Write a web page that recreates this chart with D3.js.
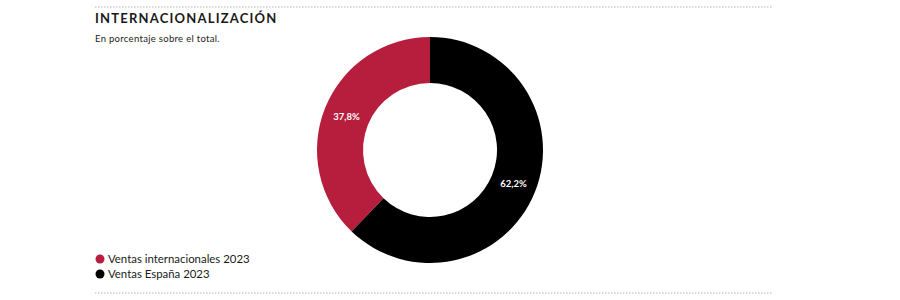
<!DOCTYPE html>
<html>
<head>
<meta charset="utf-8">
<script src="https://cdn.jsdelivr.net/npm/d3@7"></script>
<style>
  body { margin: 0; background: #fff; }
  svg { font-family: Lato, "Noto Sans", sans-serif; }
</style>
</head>
<body>
<div id="chart-area"></div>
<script>
// datos
var categories = ["Ventas internacionales 2023", "Ventas España 2023"];
var values = [37.8, 62.2];
var labels = ["37,8%", "62,2%"];
var colors = ["#b71d3d", "#000000"];

var width = 900, height = 300;
var cx = 430, cy = 150, rOuter = 113, rInner = 67;

var svg = d3.select("#chart-area").append("svg")
            .attr("width", width)
            .attr("height", height);

// lineas punteadas
[7, 293].forEach((y) => {
  svg.append("line")
     .attr("x1", 95).attr("x2", 773)
     .attr("y1", y).attr("y2", y)
     .attr("stroke", "#b5b5b5")
     .attr("stroke-width", 1)
     .attr("stroke-dasharray", "1.5,1.5");
});

svg.append("text")
   .attr("x", 95).attr("y", 23)
   .attr("font-size", 13)
   .attr("font-weight", "bold")
   .attr("letter-spacing", 1.2)
   .attr("fill", "#1a1a1a")
   .text("INTERNACIONALIZACIÓN");

svg.append("text")
   .attr("x", 95).attr("y", 42)
   .attr("font-size", 9.5)
   .attr("letter-spacing", 0.3)
   .attr("fill", "#222")
   .text("En porcentaje sobre el total.");

var data = categories.map((c, i) => ({ name: c, value: values[i], label: labels[i], color: colors[i] }));

// España empieza arriba en sentido horario, internacional cierra el circulo
var pie = d3.pie()
            .sort(null)
            .value((d) => d.value)
            .startAngle(-2 * Math.PI * values[0] / 100)
            .endAngle(2 * Math.PI - 2 * Math.PI * values[0] / 100);

var arc = d3.arc().innerRadius(rInner).outerRadius(rOuter);

var g = svg.append("g").attr("transform", "translate(" + cx + "," + cy + ")");

g.selectAll("path")
 .data(pie(data))
 .enter()
 .append("path")
   .attr("d", arc)
   .attr("fill", (d) => d.data.color);

g.selectAll("text")
 .data(pie(data))
 .enter()
 .append("text")
   .attr("transform", (d) => "translate(" + arc.centroid(d) + ")")
   .attr("text-anchor", "middle")
   .attr("dy", "0.35em")
   .attr("font-size", 9.5)
   .attr("font-weight", "bold")
   .attr("fill", "#fff")
   .text((d) => d.data.label);

// leyenda
var legend = svg.selectAll(".legend")
                .data(data)
                .enter()
                .append("g")
                .attr("transform", (d, i) => "translate(100," + (259 + i * 15) + ")");

legend.append("circle")
      .attr("r", 4.5)
      .attr("fill", (d) => d.color);

legend.append("text")
      .attr("x", 8)
      .attr("dy", "0.35em")
      .attr("font-size", 11.4)
      .attr("fill", "#1a1a1a")
      .text((d) => d.name);
</script>
</body>
</html>
